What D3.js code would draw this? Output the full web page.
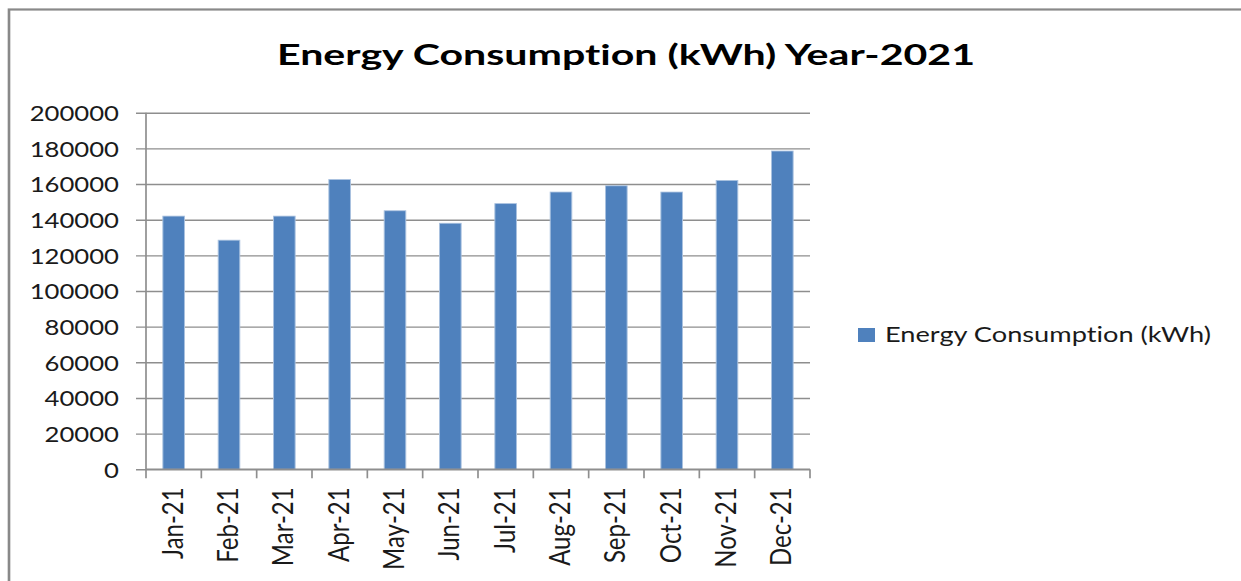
<!DOCTYPE html>
<html>
<head>
<meta charset="utf-8">
<script src="https://cdnjs.cloudflare.com/ajax/libs/d3/7.8.5/d3.min.js"></script>
<style>
    body { margin: 0; background: #ffffff; }
    svg { display: block; }
    text { font-family: Lato, "Liberation Sans", sans-serif; fill: #1a1a1a; font-variant-ligatures: none; }
</style>
</head>
<body>
<div id="main"></div>
<script>
var months = ["Jan-21", "Feb-21", "Mar-21", "Apr-21", "May-21", "Jun-21",
              "Jul-21", "Aug-21", "Sep-21", "Oct-21", "Nov-21", "Dec-21"];
var consumption = [142000, 128500, 142000, 162500, 145000, 138000,
                   149000, 155500, 159000, 155500, 162000, 178500];
var y_ticks = [0, 20000, 40000, 60000, 80000, 100000, 120000, 140000, 160000, 180000, 200000];
var title_text = "Energy Consumption (kWh) Year-2021";
var series_name = "Energy Consumption (kWh)";

var draw_chart = function(parent) {
    var W = 1241, H = 581;
    // the original picture is stretched sideways, so everything is drawn
    // in a narrower space and widened by sx
    var sx = 1.2;
    var px = function(v) { return v / sx; };

    var svg = d3.select(parent)
        .append("svg")
        .attr("width", W)
        .attr("height", H);

    var root = svg.append("g")
        .attr("transform", "scale(" + sx + ",1)");

    // chart frame, cut off at right and bottom
    root.append("rect")
        .attr("x", px(9))
        .attr("y", 9.5)
        .attr("width", px(1400))
        .attr("height", 800)
        .attr("fill", "#ffffff")
        .attr("stroke", "#898989")
        .attr("stroke-width", 2.2);

    var plot_left = px(146), plot_right = px(810), plot_top = 112.7, plot_bottom = 469.3;
    var grey = "#8e8e8e";

    var x = d3.scaleBand()
        .domain(months)
        .range([plot_left, plot_right])
        .paddingInner(0.61)
        .paddingOuter(0.305);

    var y = d3.scaleLinear()
        .domain([0, 200000])
        .range([plot_bottom, plot_top]);

    // y axis with gridlines
    var yaxis = root.append("g")
        .attr("transform", "translate(" + plot_left + ",0)")
        .call(d3.axisLeft(y)
              .tickValues(y_ticks)
              .tickFormat(d3.format("d"))
              .tickSizeInner(-(plot_right - plot_left))
              .tickSizeOuter(0)
              .tickPadding(px(27)));
    yaxis.select(".domain").remove();
    yaxis.selectAll(".tick line")
        .attr("x1", px(-10))
        .attr("stroke", grey)
        .attr("stroke-width", 1.4);
    yaxis.selectAll(".tick text")
        .attr("dy", "0.36em")
        .style("font-size", "21.4px")
        .attr("fill", "#1a1a1a");
    yaxis.attr("font-family", null).attr("font-size", null);

    root.append("line")
        .attr("x1", plot_left).attr("x2", plot_left)
        .attr("y1", plot_top).attr("y2", plot_bottom)
        .attr("stroke", grey)
        .attr("stroke-width", 1.4);

    // bars
    root.selectAll(".bar")
        .data(consumption)
        .enter()
        .append("rect")
        .attr("class", "bar")
        .attr("x", function(d, i) { return x(months[i]); })
        .attr("width", x.bandwidth())
        .attr("y", function(d) { return y(d); })
        .attr("height", function(d) { return y(0) - y(d); })
        .attr("fill", "#4f81bd")
        .attr("stroke", "#a9c1df")
        .attr("stroke-width", 0.8);

    // x axis: ticks on category boundaries, rotated labels
    var bounds = d3.range(months.length + 1).map(function(i) { return plot_left + i * x.step(); });
    root.selectAll(".xtick")
        .data(bounds)
        .enter()
        .append("line")
        .attr("class", "xtick")
        .attr("x1", function(d) { return d; })
        .attr("x2", function(d) { return d; })
        .attr("y1", plot_bottom)
        .attr("y2", plot_bottom + 9)
        .attr("stroke", grey)
        .attr("stroke-width", 1.4);

    root.append("line")
        .attr("x1", plot_left).attr("x2", plot_right)
        .attr("y1", plot_bottom).attr("y2", plot_bottom)
        .attr("stroke", grey)
        .attr("stroke-width", 1.4);

    root.selectAll(".xlabel")
        .data(months)
        .enter()
        .append("text")
        .attr("class", "xlabel")
        .attr("text-anchor", "end")
        .attr("transform", function(d) {
            return "translate(" + (x(d) + x.bandwidth() / 2 + px(9)) + "," + (plot_bottom + 18) + ") rotate(-90)";
        })
        .style("font-size", "24px")
        .text(function(d) { return d; });

    // title
    root.append("text")
        .attr("x", px(626))
        .attr("y", 65)
        .attr("text-anchor", "middle")
        .attr("textLength", px(698))
        .attr("lengthAdjust", "spacingAndGlyphs")
        .style("font-size", "29.5px")
        .style("font-weight", "bold")
        .style("fill", "#000000")
        .text(title_text);

    // legend
    var legend = root.append("g");
    legend.append("rect")
        .attr("x", px(858))
        .attr("y", 328)
        .attr("width", px(17))
        .attr("height", 14)
        .attr("fill", "#4f81bd");
    legend.append("text")
        .attr("x", px(885))
        .attr("y", 342.5)
        .attr("textLength", px(326))
        .attr("lengthAdjust", "spacingAndGlyphs")
        .style("font-size", "21.4px")
        .text(series_name);
};

draw_chart("#main");
</script>
</body>
</html>
